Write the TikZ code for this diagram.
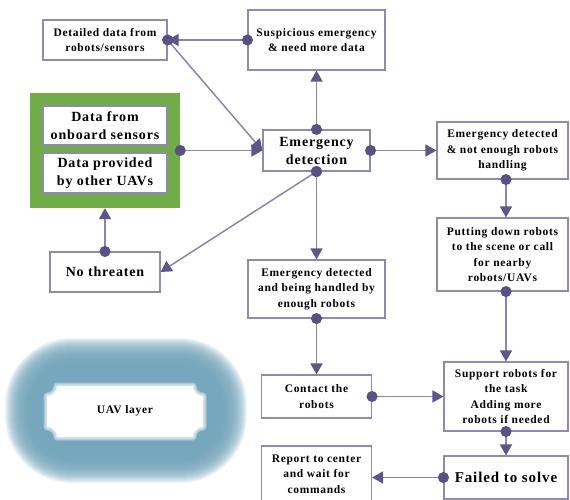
\documentclass[tikz,border=0pt]{standalone}
\usepackage{fontspec}
\setmainfont[LetterSpace=6]{Liberation Serif}
\usetikzlibrary{arrows.meta}
\definecolor{boxc}{HTML}{9089B8}
\definecolor{linec}{HTML}{8A84B4}
\definecolor{tipc}{HTML}{5E5689}
\definecolor{dotc}{HTML}{5A5083}
\definecolor{greenc}{HTML}{70AD47}
\definecolor{uavc}{HTML}{6FA2B8}
\tikzset{
  bx/.style={draw=boxc, line width=1.1pt, fill=white, align=center, inner sep=1pt,
    font=\bfseries\fontsize{11.5}{15.5}\selectfont},
  big/.style={font=\bfseries\fontsize{14}{18}\selectfont},
  con/.style={draw=linec, line width=1.5pt, shorten <=-5.5pt,
    {Circle[length=11pt,width=11pt,color=dotc]}-{Triangle[length=11pt,width=12pt,color=tipc]}},
}
\begin{document}
\begin{tikzpicture}[x=1pt,y=-1pt]
\useasboundingbox (0,0) rectangle (570,499);
% UAV layer blurred ring
\foreach \d in {-12,-11,...,12}{
  \pgfmathsetmacro\rr{55+\d}
  \fill[uavc, opacity=0.11, rounded corners=\rr pt] (17-\d,350-\d) rectangle (235+\d,471+\d);
}
\foreach \w in {7,5,3}{
  \draw[white, opacity=0.3, line width=\w pt, line join=round]
    (57,386) -- (193,386) .. controls (193,391) and (197,396) .. (203,396) -- (203,427)
    .. controls (197,427) and (193,432) .. (193,437) -- (57,437)
    .. controls (57,432) and (53,427) .. (47,427) -- (47,396)
    .. controls (53,396) and (57,391) .. (57,386) -- cycle;
}
\fill[white]
    (57,386) -- (193,386) .. controls (193,391) and (197,396) .. (203,396) -- (203,427)
    .. controls (197,427) and (193,432) .. (193,437) -- (57,437)
    .. controls (57,432) and (53,427) .. (47,427) -- (47,396)
    .. controls (53,396) and (57,391) .. (57,386) -- cycle;
\node[font=\bfseries\fontsize{11.5}{15.5}\selectfont] (uavl) at (125,411) {UAV layer};

% boxes
\node[bx, minimum width=124, minimum height=40] (det) at (105,40) {Detailed data from\\robots/sensors};
\node[bx, minimum width=137, minimum height=60] (susp) at (316.5,40) {Suspicious emergency\\\& need more data};
\node[fill=greenc, minimum width=150, minimum height=115, inner sep=0] (green) at (105,150.5) {};
\node[bx, big, minimum width=124, minimum height=39] (onb) at (105,125.5) {Data from\\onboard sensors};
\node[bx, big, minimum width=124, minimum height=40] (ouav) at (105,173) {Data provided\\by other UAVs};
\node[bx, big, minimum width=107, minimum height=41] (emd) at (316.5,150.5) {Emergency\\detection};
\node[bx, minimum width=131, minimum height=57] (nen) at (502.5,150.5) {Emergency detected\\\& not enough robots\\handling};
\node[bx, minimum width=131, minimum height=73] (put) at (502.5,254.5) {Putting down robots\\to the scene or call\\for nearby\\robots/UAVs};
\node[bx, big, minimum width=110, minimum height=40] (noth) at (105,272) {No threaten};
\node[bx, minimum width=137, minimum height=58] (hand) at (316.5,289) {Emergency detected\\and being handled by\\enough robots};
\node[bx, minimum width=110, minimum height=43] (cont) at (316.5,396.5) {Contact the\\robots};
\node[bx, minimum width=124, minimum height=69] (sup) at (506,396.5) {Support robots for\\the task\\Adding more\\robots if needed};
\node[bx, font=\bfseries\fontsize{15}{18}\selectfont, minimum width=124, minimum height=43] (fail) at (506,477.5) {Failed to solve};
\node[bx, minimum width=110, minimum height=56] (rep) at (316.5,474) {Report to center\\and wait for\\commands};

% connectors
\draw[con] (susp.west) -- (det.east);
\draw[con] (det.east) -- (emd.west);
\draw[con] (green.east) -- (emd.west);
\draw[con] (emd.north) -- (susp.south);
\draw[con] (emd.east) -- (nen.west);
\draw[con] (emd.south) -- (noth.east);
\draw[con] (emd.south) -- (hand.north);
\draw[con] (noth.north) -- (green.south);
\draw[con] (nen.south -| sup.north) -- (put.north -| sup.north);
\draw[con] (put.south -| sup.north) -- (sup.north);
\draw[con] (hand.south) -- (cont.north);
\draw[con] (cont.east) -- (sup.west |- cont.east);
\draw[con] (sup.south) -- (fail.north);
\draw[con] (fail.west) -- (rep.east |- fail.west);
\end{tikzpicture}
\end{document}
